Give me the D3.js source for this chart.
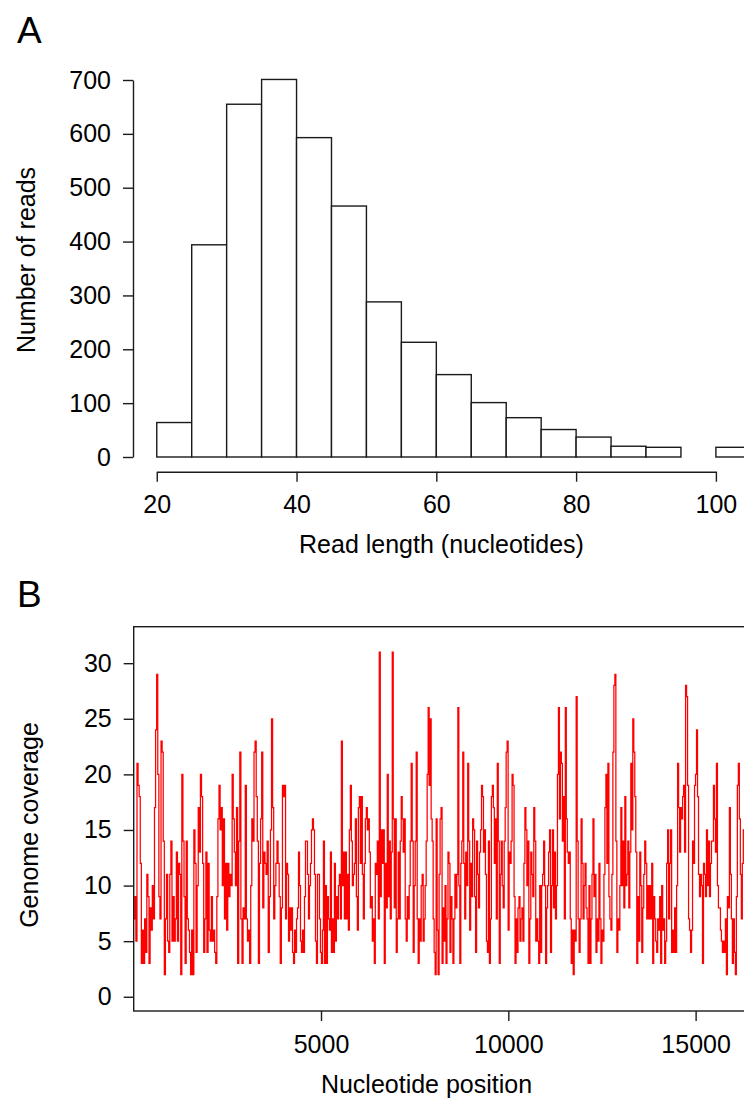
<!DOCTYPE html>
<html>
<head>
<meta charset="utf-8">
<script src="https://cdn.jsdelivr.net/npm/d3@7"></script>
<style>
  body { margin: 0; background: #fff; }
  svg { display: block; font-family: "Liberation Sans", Arial, sans-serif; }
</style>
</head>
<body>
<div class="canvas"></div>
<script>
// Panel A: read length histogram
const BREAKS = [20, 25, 30, 35, 40, 45, 50, 55, 60, 65, 70, 75, 80, 85, 90, 95, 100, 105];
const COUNTS = [64, 394, 655, 701, 593, 466, 288, 213, 153, 101, 73, 51, 37, 20, 18, 0, 18];
const A_Y_TICKS = [0, 100, 200, 300, 400, 500, 600, 700];
const A_X_TICKS = [20, 40, 60, 80, 100];

const GENOME_LENGTH = 16569;
const SEGMENT_BREAKS = [0, 4000, 8100, 12180, 16300];
const coverage1 = [7,9,5,21,19,18,12,3,6,3, 7,4,11,9,3,8,6,10,7,17, 24,29,20,9,7,23,22,14,2,7,
  11,5,4,11,14,5,9,5,7,13, 5,12,11,2,20,14,9,3,14,7, 6,4,2,6,2,15,12,4,10,17,
  13,20,18,12,4,7,13,4,12,6, 5,9,5,6,4,3,9,16,19,15, 17,10,16,7,12,6,12,9,11,10,
  20,16,13,10,17,3,14,22,7,3, 8,7,19,7,5,6,3,10,16,14, 22,23,18,14,3,12,16,22,8,13,
  12,11,14,4,9,15,25,17,7,10, 12,14,12,9,3,8,19];
const coverage2 = [18,19,7,12,11,5,8,6,8,4, 3,6,4,7,8,13,10,5,4,6, 4,9,14,14,11,7,10,12,15,16,
  15,11,5,3,11,11,7,4,3,6, 14,3,10,3,9,7,6,13,4,7, 4,12,5,9,7,10,11,7,23,10,
  13,7,13,7,11,6,15,19,14,10, 11,12,16,9,6,17,18,12,18,11, 7,12,16,17,15,16,13,8,9,5,
  7,3,12,11,14,7,31,9,15,12, 15,3,12,8,20,9,14,7,13,31, 16,8,16,4,7,13,7,14,18,16,
  13,16,7,5,9,7,10,14,21,14, 4,10,14,22,7,3,7,5,10,11, 5,7,10,14,20,26,19,25,16,14,
  7,4,2,16];
const coverage3 = [6,2,11,16,17,3,8,5,10,3, 7,13,12,4,9,7,3,7,11,8, 11,26,10,3,12,14,22,12,7,13,
  10,21,14,6,12,9,16,15,9,4, 14,11,8,13,15,19,18,13,15,11, 5,4,14,3,7,18,19,17,12,16,
  7,21,14,3,11,14,10,8,14,17, 22,23,6,13,12,14,20,19,9,3, 7,4,8,9,5,7,8,5,12,17,
  15,10,14,3,7,13,11,9,17,14, 5,7,5,3,10,4,10,11,14,10, 3,8,10,13,15,4,10,15,8,13,
  7,10,20,26,16,22,21,14,18,7, 26,16,13,12,13,7,3,6,2,6, 5,27,14,7,4,7,16,12,7,10,
  12,8,7,3,10];
const coverage4 = [3,7,11,16,9,11,4,7,5,12, 7,3,6,5,11,17,20,12,21,9, 7,6,11,22,28,29,14,4,7,6,
  10,17,10,14,8,18,10,11,14,8, 13,21,15,25,22,18,13,3,9,5, 13,10,4,8,11,14,12,7,10,7,
  10,7,12,3,9,7,5,4,7,6, 9,3,10,6,7,3,5,12,15,7, 12,15,4,6,4,8,4,10,21,17,
  13,17,16,18,19,13,28,27,19,7, 6,4,6,14,12,19,20,24,18,11, 9,11,10,3,12,11,9,15,10,14,
  9,12,14,14,19,16,13,21,10,8, 8,6,5,4,5,4,7,2,9,8, 17,11,7,3,7,4,2,9,19,21,
  16,11,7,12,15];
const B_Y_TICKS = [0, 5, 10, 15, 20, 25, 30];
const B_X_TICKS = [5000, 10000, 15000];

const FONT = 25;
const INK = '#1a1a1a';

const svg = d3.select('.canvas')
    .append('svg')
    .attr('width', 744)
    .attr('height', 1100);

svg.append('rect').attr('width', 744).attr('height', 1100).attr('fill', '#fff');

// ---------- Panel A ----------
const xA = d3.scaleLinear().domain([16.6, 108.4]).range([133, 774.6]);
const yA = d3.scaleLinear().domain([0, 700]).range([457, 80]);

const bins = COUNTS.map((c, i) => ({ x0: BREAKS[i], x1: BREAKS[i + 1], count: c }));

svg.append('g')
    .selectAll('rect')
    .data(bins)
    .enter()
    .append('rect')
    .attr('x', d => xA(d.x0))
    .attr('width', d => xA(d.x1) - xA(d.x0))
    .attr('y', d => yA(d.count))
    .attr('height', d => yA(0) - yA(d.count))
    .attr('fill', '#fff')
    .attr('stroke', INK)
    .attr('stroke-width', 1.4);

const intFormat = d3.format('d');

const yAxisA = svg.append('g')
    .attr('transform', `translate(${xA(16.6)},0)`)
    .call(d3.axisLeft(yA).tickValues(A_Y_TICKS).tickFormat(intFormat)
        .tickSize(10).tickSizeOuter(0).tickPadding(12));

const xAxisScaleA = xA.copy().domain([20, 100]).range([xA(20), xA(100)]);
const xAxisA = svg.append('g')
    .attr('transform', 'translate(0,471.7)')
    .call(d3.axisBottom(xAxisScaleA).tickValues(A_X_TICKS).tickFormat(intFormat)
        .tickSize(10).tickSizeOuter(0).tickPadding(14));

// ---------- Panel B ----------
const xB = d3.scaleLinear().domain([0, GENOME_LENGTH]).range([133.7, 754.4]);
const yB = d3.scaleLinear().domain([-1.28, 33.28]).range([1011, 626.7]);

const segments = [coverage1, coverage2, coverage3, coverage4];
const points = [];
segments.forEach((vals, i) => {
    const a = SEGMENT_BREAKS[i], b = SEGMENT_BREAKS[i + 1];
    vals.forEach((v, j) => points.push([a + j * (b - a) / vals.length, v]));
});
points.push([SEGMENT_BREAKS[4], coverage4[coverage4.length - 1]]);

svg.append('clipPath').attr('id', 'clipB')
    .append('rect')
    .attr('x', xB(0)).attr('y', yB(33.28))
    .attr('width', xB(GENOME_LENGTH) - xB(0))
    .attr('height', yB(-1.28) - yB(33.28));

const line = d3.line()
    .x(d => xB(d[0]))
    .y(d => yB(d[1]))
    .curve(d3.curveStepAfter);

svg.append('path')
    .datum(points)
    .attr('clip-path', 'url(#clipB)')
    .attr('d', line)
    .attr('fill', 'none')
    .attr('stroke', '#ff0000')
    .attr('stroke-width', 1.25);

svg.append('rect')
    .attr('x', xB(0)).attr('y', yB(33.28))
    .attr('width', xB(GENOME_LENGTH) - xB(0))
    .attr('height', yB(-1.28) - yB(33.28))
    .attr('fill', 'none')
    .attr('stroke', INK)
    .attr('stroke-width', 1.4);

const yAxisScaleB = yB.copy().domain([0, 30]).range([yB(0), yB(30)]);
const yAxisB = svg.append('g')
    .attr('transform', `translate(${xB(0)},0)`)
    .call(d3.axisLeft(yAxisScaleB).tickValues(B_Y_TICKS).tickFormat(intFormat)
        .tickSize(10).tickSizeOuter(0).tickPadding(12));
yAxisB.select('.domain').remove();

const xAxisB = svg.append('g')
    .attr('transform', `translate(0,${yB(-1.28)})`)
    .call(d3.axisBottom(xB).tickValues(B_X_TICKS).tickFormat(intFormat)
        .tickSize(10).tickSizeOuter(0).tickPadding(14));
xAxisB.select('.domain').remove();

// shared axis styling
[yAxisA, xAxisA, yAxisB, xAxisB].forEach(ax => {
    ax.selectAll('line, path').attr('stroke', INK).attr('stroke-width', 1.4);
    ax.selectAll('text')
        .attr('font-size', FONT)
        .attr('font-family', '"Liberation Sans", Arial, sans-serif')
        .attr('fill', '#000');
});

// titles
const title = (x, y, txt, rotate) => {
    const t = svg.append('text')
        .attr('text-anchor', 'middle')
        .attr('font-size', FONT)
        .attr('fill', '#000')
        .text(txt);
    if (rotate) t.attr('transform', `translate(${x},${y}) rotate(-90)`);
    else t.attr('x', x).attr('y', y);
};
title(441.5, 553, 'Read length (nucleotides)');
title(35, 260, 'Number of reads', true);
title(426.5, 1093, 'Nucleotide position');
title(38, 825, 'Genome coverage', true);

svg.append('text').attr('x', 17).attr('y', 43).attr('font-size', 37).attr('fill', '#000').text('A');
svg.append('text').attr('x', 17).attr('y', 607).attr('font-size', 37).attr('fill', '#000').text('B');
</script>
</body>
</html>
